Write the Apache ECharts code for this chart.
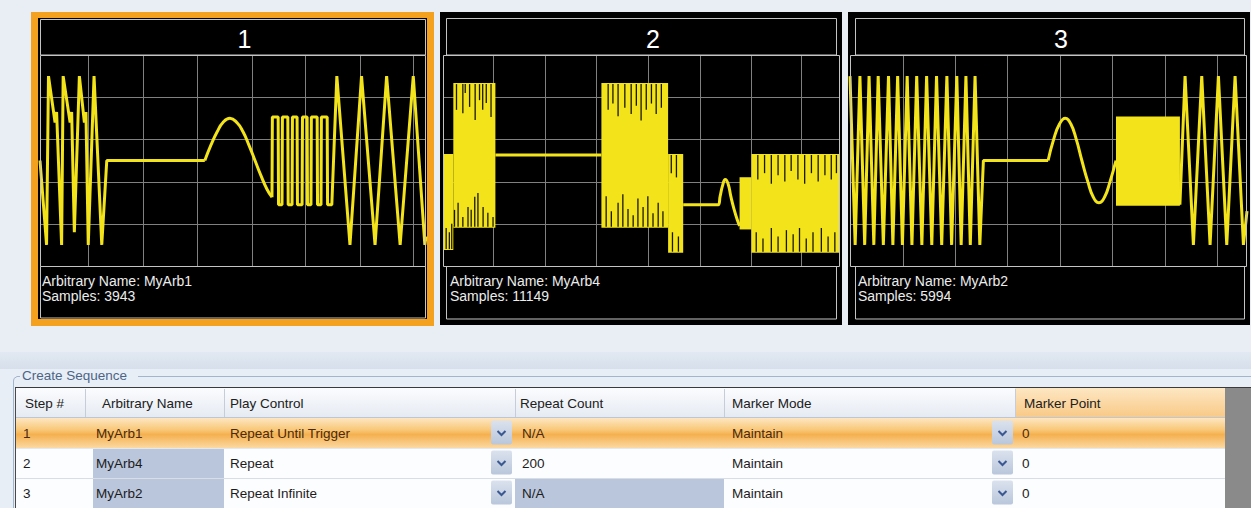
<!DOCTYPE html>
<html><head><meta charset="utf-8">
<script src="https://cdn.jsdelivr.net/npm/echarts@6/dist/echarts.min.js"></script>
<style>html,body{margin:0;padding:0;background:#e9eef5;overflow:hidden}#c{width:1251px;height:508px}</style>
</head><body><div id="c"></div>
<script>
// ---------- DATA ----------
const panelTitles = ['1', '2', '3'];
const arbNames = ['MyArb1', 'MyArb4', 'MyArb2'];
const sampleCounts = [3943, 11149, 5994];

// x: percent of record, y: screen divisions (-2.5 .. 2.5)
const gridX1 = [12.4, 26.7, 40.7, 54.9, 68.7, 82.9, 96.6];
const gridX2 = [12.6, 25.7, 38.5, 51.6, 64.7, 77.6, 90.2];
const gridX3 = [13.4, 26.4, 39.5, 52.9, 66.0, 79.3, 92.4];
const gridY = [-1.5, -0.5, 0.5, 1.5];

// Panel 1 (MyArb1)
const wave1Left = [[0,0],[1.7,-2.0],[2.2,2.0],[3.9,0.9],[4.3,1.15],[5.6,-2.0],[6.0,2.0],[7.8,0.9],[8.2,1.15],[8.9,-1.7],[10.2,2.0],[11.5,0.9],[11.9,1.15],[12.5,-2.0],[14.0,2.0],[16.0,-2.0],[17.3,0],[42.7,0]];
const wave1Sine = [[42.7,0],[44.3,0.37],[45.9,0.68],[47.4,0.9],[49.2,1.0],[51.0,0.9],[52.6,0.68],[54.1,0.37],[55.7,0],[57.3,-0.37],[58.8,-0.68],[60.1,-0.87]];
const wave1Right = [[60.1,-0.87],[60.2,1.03],[61.7,1.03],[61.8,-1.05],[62.7,-1.05],[62.8,1.03],[64.2,1.03],[64.3,-1.05],[65.3,-1.05],[65.4,1.03],[66.6,1.03],[66.7,-1.05],[67.9,-1.05],[68.0,1.03],[69.2,1.03],[69.3,-1.05],[70.2,-1.05],[70.3,1.03],[71.8,1.03],[71.9,-1.05],[72.8,-1.05],[72.9,1.03],[74.4,1.03],[74.5,-1.05],[75.6,-1.05],[76.9,2.0],[80.3,-2.0],[83.3,2.0],[86.8,-2.0],[89.8,2.0],[93.3,-2.0],[96.7,2.0],[99.7,-2.0],[100,-1.8]];

// Panel 2 (MyArb4): bursts [xStart, xEnd, top, bottom], streaks [x, from, to]
const wave2Flat = [[13.2,0.13],[39.9,0.13]];
const wave2Bump = [[60.5,-1.05],[69.3,-1.05],[69.8,-0.85],[70.4,-0.6],[71.1,-0.45],[71.8,-0.55],[72.5,-0.85],[73.3,-1.15],[74.1,-1.4],[74.7,-1.55]];
const bursts2 = [[0,2.6,0.13,-2.1],[2.6,13.2,1.81,-1.57],[39.9,56.7,1.81,-1.57],[56.7,60.5,0.13,-2.16],[74.7,77.7,-0.42,-1.61],[77.7,100,0.13,-2.16]];
const streaks2 = [
  [0.8,-2.1,-1.6],[1.6,-2.1,-1.7],[2.2,-2.1,-1.5],
  [3.4,1.81,1.2],[5.0,1.81,1.12],[5.6,1.81,1.6],[6.7,1.81,1.27],[8.1,1.81,0.96],[9.2,1.81,1.43],[10.0,1.81,1.2],[10.9,1.81,1.36],[12.1,1.81,1.03],
  [2.9,-1.57,-1.17],[3.8,-1.57,-1.0],[5.0,-1.57,-1.34],[6.3,-1.57,-1.1],[7.1,-1.57,-1.17],[8.0,-1.57,-0.86],[8.8,-1.57,-0.77],[10.1,-1.57,-1.1],[11.3,-1.57,-1.24],[12.6,-1.57,-1.34],
  [41.6,1.81,1.2],[42.8,1.81,1.35],[44.1,1.81,1.05],[45.8,1.81,1.25],[47.4,1.81,1.1],[48.7,1.81,1.3],[49.9,1.81,0.95],[51.2,1.81,1.2],[52.5,1.81,1.35],[53.7,1.81,1.1],[55.0,1.81,1.25],
  [41.1,-1.57,-0.85],[42.4,-1.57,-1.2],[44.1,-1.57,-1.0],[45.3,-1.57,-0.8],[46.6,-1.57,-1.15],[47.9,-1.57,-1.3],[49.1,-1.57,-0.9],[50.4,-1.57,-1.1],[51.6,-1.57,-0.85],[52.9,-1.57,-1.25],[54.2,-1.57,-1.0],[55.4,-1.57,-1.2],
  [57.5,0.13,-0.3],[58.8,0.13,-0.4],[57.8,-2.16,-1.7],[59.3,-2.16,-1.8],
  [79.3,0.13,-0.45],[81.0,0.13,-0.3],[82.7,0.13,-0.55],[84.4,0.13,-0.35],[86.1,0.13,-0.5],[87.7,0.13,-0.25],[89.4,0.13,-0.45],[91.1,0.13,-0.55],[92.8,0.13,-0.3],[94.5,0.13,-0.5],[96.2,0.13,-0.35],[97.8,0.13,-0.45],[99.1,0.13,-0.3],
  [78.9,-2.16,-1.7],[80.6,-2.16,-1.85],[82.7,-2.16,-1.6],[84.4,-2.16,-1.8],[86.5,-2.16,-1.65],[88.2,-2.16,-1.75],[89.8,-2.16,-1.6],[91.5,-2.16,-1.85],[93.2,-2.16,-1.7],[95.3,-2.16,-1.6],[97.0,-2.16,-1.8],[98.7,-2.16,-1.7]
];

// Panel 3 (MyArb2)
const wave3Left = [[0,2.0],[1.3,-2.0],[2.5,2.0],[3.7,-2.0],[4.8,2.0],[6.0,-2.0],[7.1,2.0],[8.4,-2.0],[9.7,2.0],[10.8,-2.0],[12.0,2.0],[13.2,-2.0],[14.4,2.0],[15.6,-2.0],[16.8,2.0],[18.1,-2.0],[19.3,2.0],[20.6,-2.0],[21.8,2.0],[23.1,-2.0],[24.4,2.0],[25.6,-2.0],[26.9,2.0],[28.0,-2.0],[29.2,2.0],[30.3,-2.0],[31.5,2.0],[32.7,-2.0],[33.6,0],[49.9,0]];
const wave3Sine = [[49.9,0],[51.3,0.5],[52.8,0.87],[54.2,1],[55.6,0.87],[57.0,0.5],[58.4,0],[59.9,-0.5],[61.3,-0.87],[62.7,-1],[64.1,-0.87],[65.5,-0.5],[67.0,0]];
const bursts3 = [[67.0,83.1,1.02,-1.05]];
const wave3Right = [[83.1,-1.05],[84.4,2.0],[86.5,-2.0],[88.6,2.0],[90.7,-2.0],[92.8,2.0],[94.9,-2.0],[97.0,2.0],[99.1,-2.0],[100,-1.2]];

// Sequence table
const tableHeaders = ['Step #', 'Arbitrary Name', 'Play Control', 'Repeat Count', 'Marker Mode', 'Marker Point'];
const stepNums = ['1', '2', '3'];
const playControl = ['Repeat Until Trigger', 'Repeat', 'Repeat Infinite'];
const repeatCount = ['N/A', '200', 'N/A'];
const markerMode = ['Maintain', 'Maintain', 'Maintain'];
const markerPoint = ['0', '0', '0'];
const groupTitle = 'Create Sequence';

// ---------- RENDER ----------
const YELLOW = '#f2e31b';
const GRIDC = '#808080';
const BOXC = '#c4c4c4';
const FONT = '"Liberation Sans", Arial, sans-serif';
const chart = echarts.init(document.getElementById('c'), null, {renderer: 'svg', width: 1251, height: 508});

const layout = [
  {grid: {left: 40, top: 55, width: 386, height: 211}, black: [38, 18, 389, 301], tbox: [40.5, 19.5, 385, 35.5], ibox: [40.5, 266.5, 385, 51.5], tx: 244.5, ix: 42},
  {grid: {left: 443, top: 55, width: 397, height: 211}, black: [440, 12, 402, 313], tbox: [446.5, 18.5, 390, 36.5], ibox: [446.5, 266.5, 390, 52.5], tx: 653, ix: 450},
  {grid: {left: 850, top: 55, width: 397, height: 211}, black: [848, 12, 402, 313], tbox: [855.5, 18.5, 389, 36.5], ibox: [855.5, 266.5, 389, 52.5], tx: 1061, ix: 858}
];

const series = [];
function addLine(gi, data, smooth) {
  series.push({type: 'line', xAxisIndex: gi, yAxisIndex: gi, data: data, showSymbol: false, symbol: 'none',
    smooth: smooth || false, lineStyle: {color: YELLOW, width: 3}, z: 5, silent: true, animation: false});
}
function addGrid(gi, xs) {
  series.push({type: 'custom', xAxisIndex: gi, yAxisIndex: gi, data: xs.map(v => [v, 0]), z: 2, silent: true, animation: false,
    renderItem: (p, api) => {
      const a = api.coord([api.value(0), -2.5]); const b = api.coord([api.value(0), 2.5]);
      const x = Math.round(a[0]) + 0.5;
      return {type: 'line', shape: {x1: x, y1: a[1], x2: x, y2: b[1]}, style: {stroke: GRIDC, lineWidth: 1}};
    }});
  series.push({type: 'custom', xAxisIndex: gi, yAxisIndex: gi, data: gridY.map(v => [0, v]), z: 2, silent: true, animation: false,
    renderItem: (p, api) => {
      const a = api.coord([0, api.value(1)]); const b = api.coord([100, api.value(1)]);
      const y = Math.round(a[1]) + 0.5;
      return {type: 'line', shape: {x1: a[0], y1: y, x2: b[0], y2: y}, style: {stroke: GRIDC, lineWidth: 1}};
    }});
}
function addBursts(gi, rows) {
  series.push({type: 'custom', xAxisIndex: gi, yAxisIndex: gi, data: rows, z: 4, silent: true, animation: false,
    renderItem: (p, api) => {
      const a = api.coord([api.value(0), api.value(2)]); const b = api.coord([api.value(1), api.value(3)]);
      return {type: 'rect', shape: {x: a[0], y: a[1] - 1, width: b[0] - a[0], height: b[1] - a[1] + 2}, style: {fill: YELLOW}};
    }});
}
function addStreaks(gi, rows) {
  series.push({type: 'custom', xAxisIndex: gi, yAxisIndex: gi, data: rows, z: 6, silent: true, animation: false,
    renderItem: (p, api) => {
      const a = api.coord([api.value(0), api.value(1)]); const b = api.coord([api.value(0), api.value(2)]);
      return {type: 'line', shape: {x1: a[0], y1: a[1], x2: b[0], y2: b[1]}, style: {stroke: '#1a1800', lineWidth: 1.3}};
    }});
}

addGrid(0, gridX1); addGrid(1, gridX2); addGrid(2, gridX3);
addLine(0, wave1Left); addLine(0, wave1Sine, true); addLine(0, wave1Right);
addBursts(1, bursts2); addLine(1, wave2Flat); addLine(1, wave2Bump, true); addStreaks(1, streaks2);
addLine(2, wave3Left); addLine(2, wave3Sine, true); addBursts(2, bursts3); addLine(2, wave3Right);

// graphics
const g = [];
function rect(x, y, w, h, style, z) { g.push({type: 'rect', shape: {x, y, width: w, height: h}, style, z: z || 0, silent: true}); }
function line(x1, y1, x2, y2, stroke, lw, z) { g.push({type: 'line', shape: {x1, y1, x2, y2}, style: {stroke, lineWidth: lw || 1}, z: z || 1, silent: true}); }
function text(t, x, y, size, fill, align, z) {
  g.push({type: 'text', x: 0, y: 0, z: z || 10, silent: true,
    style: {text: t, x, y, fill, font: size + 'px ' + FONT, textAlign: align || 'left', textVerticalAlign: 'middle', align: align || 'left', verticalAlign: 'middle'}});
}
function vgrad(stops) { return {type: 'linear', x: 0, y: 0, x2: 0, y2: 1, colorStops: stops.map(s => ({offset: s[0], color: s[1]}))}; }

// panels
rect(31, 12, 403, 314, {fill: '#f4a11f'}, -5);
layout.forEach((L, i) => {
  rect(L.black[0], L.black[1], L.black[2], L.black[3], {fill: '#000'}, -4);
  rect(L.tbox[0], L.tbox[1], L.tbox[2], L.tbox[3], {fill: 'none', stroke: BOXC, lineWidth: 1}, 1);
  rect(L.ibox[0], L.ibox[1], L.ibox[2], L.ibox[3], {fill: 'none', stroke: BOXC, lineWidth: 1}, 1);
  rect(L.grid.left + 0.5, L.grid.top + 0.5, L.grid.width - 1, L.grid.height, {fill: 'none', stroke: BOXC, lineWidth: 1}, 8);
  text(panelTitles[i], L.tx, 39, 25, '#ffffff', 'center');
  text('Arbitrary Name: ' + arbNames[i], L.ix, 281, 14, '#ececec', 'left');
  text('Samples: ' + sampleCounts[i], L.ix, 296, 14, '#ececec', 'left');
});

// lower area
rect(0, 352, 1251, 17, {fill: vgrad([[0, '#e2e9f2'], [1, '#d6dfeb']])}, -5);
rect(0, 369, 1251, 139, {fill: '#e8eef6'}, -5);
line(138, 376.5, 1251, 376.5, '#a3b5cc', 1);
line(17, 376.5, 20, 376.5, '#a3b5cc', 1);
g.push({type: 'polyline', shape: {points: [[17, 376.5], [14, 378.5], [13.5, 381], [13.5, 508]]}, style: {stroke: '#a3b5cc', lineWidth: 1, fill: 'none'}, z: 1, silent: true});
text(groupTitle, 22, 375, 13.5, '#4c6587', 'left');

const colEdges = [15, 85, 224, 515, 724, 1015, 1225];
const headX = [25, 102, 230, 520, 732, 1024];
const cellX = [23, 96, 230, 522, 732, 1022];
const rowTop = [418, 448, 478];
const cols = [stepNums, arbNames, playControl, repeatCount, markerMode, markerPoint];

rect(15, 388, 1210, 120, {fill: '#fcfdff'}, -3);
rect(15, 388, 1000, 30, {fill: vgrad([[0, '#fbfcfe'], [1, '#e5eaf2']])}, -2);
rect(1015, 388, 210, 30, {fill: vgrad([[0, '#fde7c3'], [1, '#f9c884']])}, -2);
for (let k = 1; k < 6; k++) line(colEdges[k] + 0.5, 389, colEdges[k] + 0.5, 417, '#c6cdd8', 1);
line(15, 417.5, 1225, 417.5, '#bcc6d4', 1);
// row 1 selected
rect(15, 418, 1210, 30, {fill: vgrad([[0, '#fde6c2'], [0.4, '#f9c777'], [0.55, '#f5b04f'], [1, '#fbd9a2']])}, -2);
line(15, 478.5, 1225, 478.5, '#d8dde6', 1);
line(15, 448.5, 1225, 448.5, '#e3e7ee', 1);
// highlighted cells
rect(93, 449, 131, 29, {fill: '#bac6dc'}, -1);
rect(93, 479, 131, 29, {fill: '#bac6dc'}, -1);
rect(515, 479, 209, 29, {fill: '#bac6dc'}, -1);
// dropdown buttons
rowTop.forEach(t => {
  [491, 992].forEach(bx => {
    g.push({type: 'rect', shape: {x: bx, y: t + 2.5, width: 21, height: 24, r: 2}, style: {fill: vgrad([[0, '#dbe2ee'], [1, '#b9c6db']])}, z: 2, silent: true});
    const cx = bx + 10.5, cy = t + 15;
    g.push({type: 'polyline', shape: {points: [[cx - 4, cy - 2], [cx, cy + 2], [cx + 4, cy - 2]]}, style: {stroke: '#3a5892', lineWidth: 2, fill: 'none'}, z: 3, silent: true});
  });
});
// borders
rect(1225, 388, 26, 120, {fill: '#8a8a8a'}, 1);
line(15, 387.5, 1251, 387.5, '#3a3a3a', 1.2, 4);
line(15.5, 388, 15.5, 508, '#4a4a4a', 1, 4);
// texts
tableHeaders.forEach((h, k) => text(h, headX[k], 403, 13.5, '#202020', 'left'));
rowTop.forEach((t, r) => {
  cols.forEach((c, k) => text(c[r], cellX[k], t + 15, 13.5, r === 0 ? '#4a2a0c' : '#1c1c1c', 'left'));
});

chart.setOption({
  backgroundColor: '#e9eef5',
  animation: false,
  grid: layout.map(L => Object.assign({containLabel: false, show: false}, L.grid)),
  xAxis: layout.map((L, i) => ({gridIndex: i, type: 'value', min: 0, max: 100, show: false})),
  yAxis: layout.map((L, i) => ({gridIndex: i, type: 'value', min: -2.5, max: 2.5, show: false})),
  series: series,
  graphic: {elements: g}
});
</script></body></html>
